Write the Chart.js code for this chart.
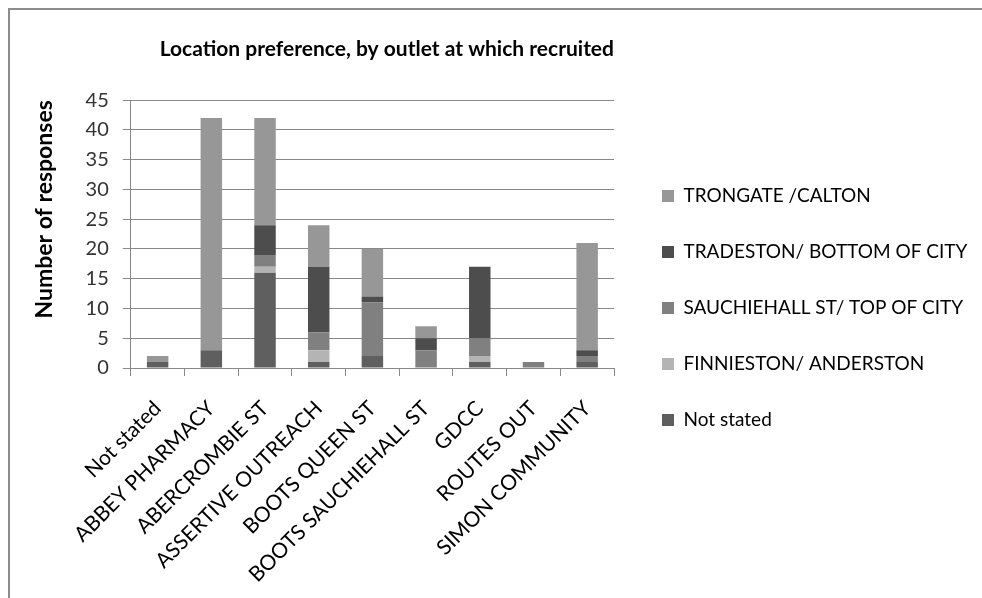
<!DOCTYPE html>
<html>
<head>
<meta charset="utf-8">
<script src="https://cdn.jsdelivr.net/npm/chart.js@4.4.0/dist/chart.umd.min.js"></script>
<style>
	html, body { margin: 0; padding: 0; background: #fff; }
	.frame { position: absolute; left: 8px; top: 8px; width: 974px; height: 590px; border-top: 2px solid #8c8c8c; border-left: 2px solid #8c8c8c; }
	canvas { display: block; }
</style>
</head>
<body>
<div class="frame"><canvas id="chart" width="972" height="588"></canvas></div>
<script>
const outlets = ["Not stated", "ABBEY PHARMACY", "ABERCROMBIE ST", "ASSERTIVE OUTREACH", "BOOTS QUEEN ST", "BOOTS SAUCHIEHALL ST", "GDCC", "ROUTES OUT", "SIMON COMMUNITY"];
// stacked bottom to top
const notStated = [1, 3, 16, 1, 2, 0, 1, 0, 1];
const finnieston = [0, 0, 1, 2, 0, 0, 1, 0, 0];
const sauchiehall = [0, 0, 2, 3, 9, 3, 3, 1, 1];
const tradeston = [0, 0, 5, 11, 1, 2, 12, 0, 1];
const trongate = [1, 39, 18, 7, 8, 2, 0, 0, 18];
const yTicks = [0, 5, 10, 15, 20, 25, 30, 35, 40, 45];

const font = "Lato, 'Open Sans', sans-serif";

// legend on the right: wider than chart.js allows by default, moved away from the plot
const legendWidth = 364;
const legendShift = 11;
const legendDrop = 4;
const xAxisHeight = 230;
const legendFit = {
	id: "legendFit",
	afterInit(chart) {
		const legend = chart.legend;
		const fit = legend.fit;
		legend.fit = function () {
			fit.call(this);
			this.width = legendWidth;
		};
	},
	afterLayout(chart) {
		chart.legend.left += legendShift;
		chart.legend.top += legendDrop;
		chart.legend.bottom += legendDrop;
	},
};

const mk = (label, data, color) => ({
	label: label,
	data: data,
	backgroundColor: color,
	borderWidth: 0,
	barPercentage: 0.4,
	categoryPercentage: 1,
});

new Chart(document.getElementById("chart"), {
	type: "bar",
	data: {
		labels: outlets,
		datasets: [
			mk("Not stated", notStated, "#5f5f5f"),
			mk("FINNIESTON/ ANDERSTON", finnieston, "#b4b4b4"),
			mk("SAUCHIEHALL ST/ TOP OF CITY", sauchiehall, "#808080"),
			mk("TRADESTON/ BOTTOM OF CITY", tradeston, "#4d4d4d"),
			mk("TRONGATE /CALTON", trongate, "#979797"),
		],
	},
	plugins: [legendFit],
	options: {
		responsive: false,
		animation: false,
		layout: { padding: { left: 21, right: 4, top: 0, bottom: 0 } },
		plugins: {
			title: {
				display: true,
				fullSize: false,
				align: "end",
				text: "Location preference, by outlet at which recruited",
				color: "#000",
				font: { family: font, size: 21, weight: "bold" },
				padding: { top: 27, bottom: 38 },
			},
			legend: {
				position: "right",
				reverse: true,
				labels: {
					color: "#000",
					font: { family: font, size: 19 },
					boxWidth: 12,
					boxHeight: 12,
					padding: 37,
				},
			},
			tooltip: { enabled: false },
		},
		scales: {
			x: {
				stacked: true,
				offset: true,
				afterFit: (axis) => {
					axis.height = xAxisHeight;
				},
				grid: { offset: true, drawOnChartArea: false, color: "#888", tickLength: 8 },
				border: { color: "#888", width: 1 },
				ticks: {
					autoSkip: false,
					maxRotation: 45,
					minRotation: 45,
					color: "#000",
					font: { family: font, size: 21 },
					padding: 20,
				},
			},
			y: {
				stacked: true,
				min: 0,
				max: 45,
				afterBuildTicks: (axis) => {
					axis.ticks = yTicks.map((v) => ({ value: v }));
				},
				grid: { color: "#888", tickLength: 8 },
				border: { color: "#888", width: 1 },
				ticks: {
					autoSkip: false,
					color: "#333",
					font: { family: font, size: 20 },
					padding: 14,
				},
				title: {
					display: true,
					align: "end",
					text: "Number of responses",
					color: "#000",
					font: { family: font, size: 23, weight: "bold" },
					padding: { top: 0, bottom: 13 },
				},
			},
		},
	},
});
</script>
</body>
</html>
